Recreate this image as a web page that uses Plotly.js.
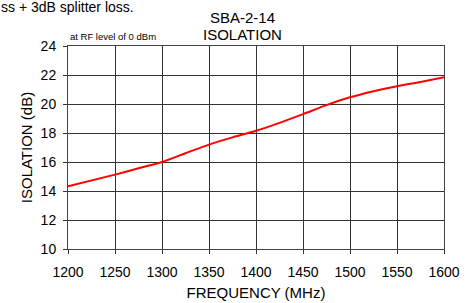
<!DOCTYPE html>
<html>
<head>
<meta charset="utf-8">
<script src="https://cdn.plot.ly/plotly-3.0.1.min.js"></script>
<style>html,body{margin:0;padding:0;background:#fff;}#chart{width:474px;height:303px;}</style>
</head>
<body>
<div id="chart"></div>
<script>
var frequency = [1200, 1250, 1275, 1300, 1325, 1350, 1375, 1400, 1425, 1450, 1475, 1500, 1525, 1550, 1575, 1600];
var isolation = [14.32, 15.13, 15.57, 16.0, 16.6, 17.2, 17.7, 18.15, 18.7, 19.3, 19.92, 20.46, 20.88, 21.22, 21.52, 21.84];
var xTicks = [1200, 1250, 1300, 1350, 1400, 1450, 1500, 1550, 1600];
var yTicks = [10, 12, 14, 16, 18, 20, 22, 24];

var font = 'Liberation Sans, Arial, sans-serif';
var trace = {
  x: frequency, y: isolation, type: 'scatter', mode: 'lines',
  line: {color: '#ff0000', width: 2, shape: 'spline', smoothing: 0.8},
  hoverinfo: 'skip'
};
var L = 68, T = 46, W = 376, H = 203;
function px(x) { return (x - L) / W; }
function py(y) { return 1 + (T - y) / H; }
var layout = {
  width: 474, height: 303,
  margin: {l: L, r: 474 - L - W, t: T, b: 303 - T - H},
  paper_bgcolor: '#fff', plot_bgcolor: '#fff',
  showlegend: false,
  font: {family: font, size: 14, color: '#000'},
  xaxis: {
    range: [1200, 1600], tickvals: xTicks, ticktext: xTicks.map(String),
    showgrid: true, gridcolor: '#333', gridwidth: 1,
    showline: true, linecolor: '#444', linewidth: 1, mirror: true,
    ticks: 'outside', ticklen: 4, tickcolor: '#333',
    ticklabelstandoff: 6,
    zeroline: false, tickfont: {size: 14, family: font},
    title: {text: 'FREQUENCY (MHz)', font: {size: 15, family: font}, standoff: 8}
  },
  yaxis: {
    range: [10, 24], tickvals: yTicks, ticktext: yTicks.map(String),
    showgrid: true, gridcolor: '#333', gridwidth: 1,
    showline: true, linecolor: '#444', linewidth: 1, mirror: true,
    ticks: 'outside', ticklen: 4, tickcolor: '#333',
    ticklabelstandoff: 4,
    zeroline: false, tickfont: {size: 14, family: font},
    title: {text: 'ISOLATION (dB)', font: {size: 15, family: font}, standoff: 4}
  },
  annotations: [
    {xref: 'paper', yref: 'paper', x: px(-1), y: py(7), xanchor: 'left', yanchor: 'middle',
     text: 'ss + 3dB splitter loss.', showarrow: false, font: {size: 14, family: font}},
    {xref: 'paper', yref: 'paper', x: px(242), y: py(18), xanchor: 'center', yanchor: 'middle',
     text: 'SBA-2-14', showarrow: false, font: {size: 15, family: font}},
    {xref: 'paper', yref: 'paper', x: px(242), y: py(34), xanchor: 'center', yanchor: 'middle',
     text: 'ISOLATION', showarrow: false, font: {size: 15, family: font}},
    {xref: 'paper', yref: 'paper', x: px(68), y: py(37), xanchor: 'left', yanchor: 'middle',
     text: 'at RF level of 0 dBm', showarrow: false, font: {size: 9.5, family: font}}
  ]
};
Plotly.newPlot('chart', [trace], layout, {staticPlot: true, displayModeBar: false});
</script>
</body>
</html>
